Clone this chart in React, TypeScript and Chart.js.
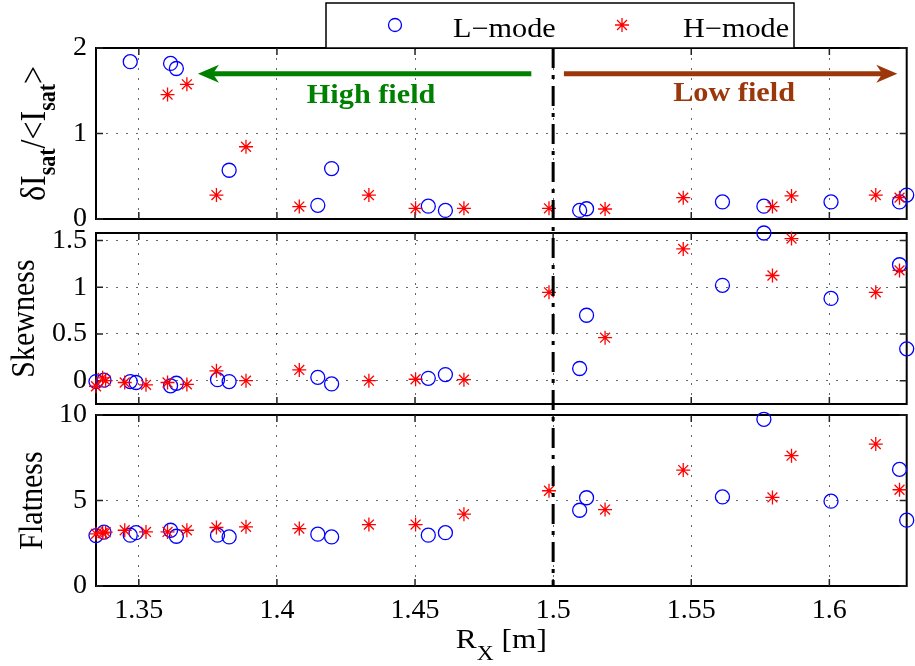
import { useEffect, useRef } from "react";
import { Chart, registerables } from "chart.js";

Chart.register(...registerables);

// ---------------- data ----------------
const X_MIN = 1.3345;
const X_MAX = 1.628;
const X_TICKS = [1.35, 1.4, 1.45, 1.5, 1.55, 1.6];
const X_TICK_LABELS = ["1.35", "1.4", "1.45", "1.5", "1.55", "1.6"];

// top panel: dIsat/<Isat>
const TOP_L_X = [1.3469, 1.3615, 1.3636, 1.3827, 1.4148, 1.4198, 1.4548, 1.461, 1.5096, 1.5121, 1.5613, 1.5763, 1.6006, 1.6254, 1.628];
const TOP_L_Y = [1.84, 1.82, 1.76, 0.57, 0.16, 0.59, 0.15, 0.1, 0.1, 0.12, 0.2, 0.15, 0.2, 0.2, 0.28];
const TOP_H_X = [1.3604, 1.3674, 1.3781, 1.3888, 1.4081, 1.4333, 1.4502, 1.4677, 1.4985, 1.5188, 1.5471, 1.5794, 1.5863, 1.6168, 1.6254];
const TOP_H_Y = [1.455, 1.575, 0.28, 0.845, 0.145, 0.28, 0.125, 0.125, 0.125, 0.117, 0.25, 0.145, 0.27, 0.28, 0.25];

// middle & bottom panels share the probe positions
const L_X = [1.3345, 1.3374, 1.3469, 1.349, 1.3615, 1.3636, 1.3785, 1.3827, 1.4148, 1.4198, 1.4548, 1.461, 1.5096, 1.5121, 1.5613, 1.5763, 1.6006, 1.6254, 1.628];
const H_X = [1.3345, 1.3369, 1.338, 1.3449, 1.3526, 1.3604, 1.3674, 1.3781, 1.3888, 1.4081, 1.4333, 1.4502, 1.4677, 1.4985, 1.5188, 1.5471, 1.5794, 1.5863, 1.6168, 1.6254];

const SKEW_L = [-0.01, 0.005, -0.01, -0.02, -0.055, -0.028, 0.01, -0.01, 0.035, -0.035, 0.025, 0.065, 0.13, 0.7, 1.02, 1.58, 0.88, 1.24, 0.34];
const SKEW_H = [-0.06, 0.03, 0.0, -0.02, -0.045, -0.02, -0.04, 0.105, 0.0, 0.115, 0.0, 0.015, 0.01, 0.945, 0.46, 1.41, 1.125, 1.52, 0.945, 1.18];

const FLAT_L = [2.95, 3.15, 2.97, 3.12, 3.26, 2.91, 2.97, 2.87, 3.03, 2.87, 2.97, 3.12, 4.43, 5.16, 5.21, 9.75, 4.96, 6.82, 3.85];
const FLAT_H = [3.05, 3.1, 3.15, 3.26, 3.16, 3.16, 3.26, 3.42, 3.46, 3.36, 3.59, 3.59, 4.2, 5.57, 4.47, 6.78, 5.18, 7.62, 8.3, 5.63];

const TOP_Y_TICKS = [0, 1, 2];
const TOP_Y_LABELS = ["0", "1", "2"];
const SKEW_Y_TICKS = [0, 0.5, 1, 1.5];
const SKEW_Y_LABELS = ["0", "0.5", "1", "1.5"];
const FLAT_Y_TICKS = [0, 5, 10];
const FLAT_Y_LABELS = ["0", "5", "10"];

const DIVIDE_X = 1.5;
const ARROW_Y = 1.7;
const HIGH_ARROW_X = [1.4921, 1.3714]; // tail, tip
const LOW_ARROW_X = [1.5039, 1.6246];
const HIGH_LABEL = [1.4341, 1.352];
const LOW_LABEL = [1.5655, 1.375];

// ---------------- layout / style ----------------
const W = 915;
const H = 666;
const PLOT_LEFT = 96;
const PLOT_RIGHT = 914;
const Y_AXIS_W = 70;
const X_AXIS_H = 60;
const SERIF = "'Liberation Serif', 'Times New Roman', serif";
const STRETCH = 1.12;
const BLUE = "rgb(0,0,255)";
const RED = "rgb(255,0,0)";
const GREEN = "rgb(0,128,0)";
const BROWN = "rgb(155,55,10)";

type Seg = { text: string; sub?: boolean };
type Panel = {
  top: number;
  bottom: number;
  yMin: number;
  yMax: number;
  yTicks: number[];
  yLabels: string[];
  lx: number[];
  ly: number[];
  hx: number[];
  hy: number[];
  titleX: number;
  titleSize: number;
  title: Seg[];
};

const PANELS: Panel[] = [
  {
    top: 48, bottom: 219, yMin: 0, yMax: 2, yTicks: TOP_Y_TICKS, yLabels: TOP_Y_LABELS,
    lx: TOP_L_X, ly: TOP_L_Y, hx: TOP_H_X, hy: TOP_H_Y, titleX: 45, titleSize: 32,
    title: [{ text: "δI" }, { text: "sat", sub: true }, { text: "/<I" }, { text: "sat", sub: true }, { text: ">" }],
  },
  {
    top: 233, bottom: 404, yMin: -0.25, yMax: 1.58, yTicks: SKEW_Y_TICKS, yLabels: SKEW_Y_LABELS,
    lx: L_X, ly: SKEW_L, hx: H_X, hy: SKEW_H, titleX: 33.5, titleSize: 30,
    title: [{ text: "Skewness" }],
  },
  {
    top: 415, bottom: 586, yMin: 0, yMax: 10, yTicks: FLAT_Y_TICKS, yLabels: FLAT_Y_LABELS,
    lx: L_X, ly: FLAT_L, hx: H_X, hy: FLAT_H, titleX: 42, titleSize: 30,
    title: [{ text: "Flatness" }],
  },
];

function drawRotatedTitle(ctx: CanvasRenderingContext2D, cx: number, cy: number, segs: Seg[], size: number) {
  const mainFont = `${size}px ${SERIF}`;
  const subFont = `bold ${Math.round(size * 0.7)}px ${SERIF}`;
  ctx.save();
  ctx.translate(cx, cy);
  ctx.rotate(-Math.PI / 2);
  ctx.scale(1, STRETCH);
  ctx.fillStyle = "#000";
  ctx.textAlign = "left";
  ctx.textBaseline = "alphabetic";
  let total = 0;
  for (const s of segs) {
    ctx.font = s.sub ? subFont : mainFont;
    total += ctx.measureText(s.text).width;
  }
  let x = -total / 2;
  for (const s of segs) {
    ctx.font = s.sub ? subFont : mainFont;
    ctx.fillText(s.text, x, s.sub ? 9 : 0);
    x += ctx.measureText(s.text).width;
  }
  ctx.restore();
}

function drawText(ctx: CanvasRenderingContext2D, x: number, y: number, text: string, font: string, color: string, align: CanvasTextAlign) {
  ctx.save();
  ctx.translate(x, y);
  ctx.scale(STRETCH, 1);
  ctx.font = font;
  ctx.fillStyle = color;
  ctx.textAlign = align;
  ctx.textBaseline = "alphabetic";
  ctx.fillText(text, 0, 0);
  ctx.restore();
}

function drawArrow(ctx: CanvasRenderingContext2D, x0: number, x1: number, y: number, color: string) {
  const dir = Math.sign(x1 - x0);
  const headL = 21;
  const headW = 9;
  const notch = 6;
  ctx.save();
  ctx.strokeStyle = color;
  ctx.fillStyle = color;
  ctx.lineWidth = 5;
  ctx.beginPath();
  ctx.moveTo(x0, y);
  ctx.lineTo(x1 - dir * (headL - notch), y);
  ctx.stroke();
  ctx.beginPath();
  ctx.moveTo(x1, y);
  ctx.lineTo(x1 - dir * headL, y - headW);
  ctx.lineTo(x1 - dir * (headL - notch), y);
  ctx.lineTo(x1 - dir * headL, y + headW);
  ctx.closePath();
  ctx.fill();
  ctx.restore();
}

function drawCircleMarker(ctx: CanvasRenderingContext2D, x: number, y: number) {
  ctx.save();
  ctx.strokeStyle = BLUE;
  ctx.lineWidth = 1.3;
  ctx.beginPath();
  ctx.arc(x, y, 6.5, 0, Math.PI * 2);
  ctx.stroke();
  ctx.restore();
}

function drawStarMarker(ctx: CanvasRenderingContext2D, x: number, y: number) {
  const r = 7;
  const d = r * Math.SQRT1_2;
  ctx.save();
  ctx.strokeStyle = RED;
  ctx.lineWidth = 1.3;
  ctx.beginPath();
  ctx.moveTo(x - r, y); ctx.lineTo(x + r, y);
  ctx.moveTo(x, y - r); ctx.lineTo(x, y + r);
  ctx.moveTo(x - d, y - d); ctx.lineTo(x + d, y + d);
  ctx.moveTo(x - d, y + d); ctx.lineTo(x + d, y - d);
  ctx.stroke();
  ctx.restore();
}

function makePlugin(idx: number, panel: Panel) {
  return {
    id: "decor" + idx,
    beforeDatasetsDraw(chart: any) {
      const { ctx, chartArea } = chart;
      const { left, right, top, bottom } = chartArea;
      const xs = chart.scales.x;
      const ys = chart.scales.y;
      ctx.save();
      ctx.setLineDash([]);
      ctx.strokeStyle = "#000";
      ctx.lineWidth = 2;
      ctx.strokeRect(left, top, right - left, bottom - top);
      ctx.lineWidth = 1.5;
      ctx.strokeStyle = "#222";
      ctx.beginPath();
      for (const t of xs.ticks) {
        const px = xs.getPixelForValue(t.value);
        ctx.moveTo(px, bottom); ctx.lineTo(px, bottom - 7);
        ctx.moveTo(px, top); ctx.lineTo(px, top + 7);
      }
      for (const t of ys.ticks) {
        const py = ys.getPixelForValue(t.value);
        ctx.moveTo(left, py); ctx.lineTo(left + 7, py);
        ctx.moveTo(right, py); ctx.lineTo(right - 7, py);
      }
      ctx.stroke();
      ctx.restore();
    },
    afterDraw(chart: any) {
      const { ctx, chartArea } = chart;
      const xs = chart.scales.x;
      const ys = chart.scales.y;
      drawRotatedTitle(ctx, panel.titleX, (chartArea.top + chartArea.bottom) / 2, panel.title, panel.titleSize);

      if (idx === 0) {
        // arrows and region labels
        const ay = ys.getPixelForValue(ARROW_Y);
        drawArrow(ctx, xs.getPixelForValue(HIGH_ARROW_X[0]), xs.getPixelForValue(HIGH_ARROW_X[1]), ay, GREEN);
        drawArrow(ctx, xs.getPixelForValue(LOW_ARROW_X[0]), xs.getPixelForValue(LOW_ARROW_X[1]), ay, BROWN);
        drawText(ctx, xs.getPixelForValue(HIGH_LABEL[0]), ys.getPixelForValue(HIGH_LABEL[1]), "High field", `bold 27px ${SERIF}`, GREEN, "center");
        drawText(ctx, xs.getPixelForValue(LOW_LABEL[0]), ys.getPixelForValue(LOW_LABEL[1]), "Low field", `bold 27px ${SERIF}`, BROWN, "center");

        // legend
        ctx.save();
        ctx.fillStyle = "#fff";
        ctx.fillRect(326, 3, 468, 45);
        ctx.strokeStyle = "#000";
        ctx.lineWidth = 1.5;
        ctx.strokeRect(326, 3, 468, 45);
        ctx.restore();
        drawCircleMarker(ctx, 395, 25);
        drawText(ctx, 453, 36.5, "L\u2212mode", `27px ${SERIF}`, "#000", "left");
        drawStarMarker(ctx, 622, 25);
        drawText(ctx, 683, 36.5, "H\u2212mode", `27px ${SERIF}`, "#000", "left");
      }

      if (idx === 2) {
        // x-axis title R_X [m]
        const cx = (chartArea.left + chartArea.right) / 2;
        const by = 648;
        ctx.save();
        ctx.translate(cx, by);
        ctx.scale(STRETCH, 1);
        ctx.fillStyle = "#000";
        ctx.textBaseline = "alphabetic";
        ctx.textAlign = "left";
        const f1 = `28px ${SERIF}`;
        const f2 = `21px ${SERIF}`;
        ctx.font = f1;
        const wR = ctx.measureText("R").width;
        const wM = ctx.measureText(" [m]").width;
        ctx.font = f2;
        const wX = ctx.measureText("X").width;
        let x = -(wR + wX + wM) / 2;
        ctx.font = f1;
        ctx.fillText("R", x, 0);
        x += wR;
        ctx.font = f2;
        ctx.fillText("X", x, 12);
        x += wX;
        ctx.font = f1;
        ctx.fillText(" [m]", x, 0);
        ctx.restore();

        // dash-dot separator spanning all panels
        const px = xs.getPixelForValue(DIVIDE_X);
        ctx.save();
        ctx.strokeStyle = "#000";
        ctx.lineWidth = 3;
        ctx.setLineDash([20, 7, 4, 7]);
        ctx.beginPath();
        ctx.moveTo(px, PANELS[0].top);
        ctx.lineTo(px, chartArea.bottom);
        ctx.stroke();
        ctx.restore();
      }
    },
  };
}

function buildConfig(idx: number, panel: Panel): any {
  const showX = idx === 2;
  const xh = showX ? X_AXIS_H : 0;
  const tickFont = { family: SERIF, size: 28 };
  return {
    type: "scatter",
    data: {
      datasets: [
        {
          label: "H\u2212mode",
          data: panel.hx.map((x, k) => ({ x, y: panel.hy[k] })),
          pointStyle: "star",
          pointRadius: 7,
          pointBorderColor: RED,
          pointBackgroundColor: RED,
          pointBorderWidth: 1.3,
          borderColor: RED,
          backgroundColor: RED,
          showLine: false,
          clip: false,
        },
        {
          label: "L\u2212mode",
          data: panel.lx.map((x, k) => ({ x, y: panel.ly[k] })),
          pointStyle: "circle",
          pointRadius: 7,
          pointBorderColor: BLUE,
          pointBackgroundColor: "rgba(0,0,0,0)",
          pointBorderWidth: 1.3,
          borderColor: BLUE,
          backgroundColor: "rgba(0,0,0,0)",
          showLine: false,
          clip: false,
        },
      ],
    },
    options: {
      responsive: false,
      animation: false,
      devicePixelRatio: 1,
      events: [],
      layout: {
        padding: {
          left: PLOT_LEFT - Y_AXIS_W,
          right: W - PLOT_RIGHT,
          top: panel.top,
          bottom: H - panel.bottom - xh,
        },
      },
      plugins: { legend: { display: false }, tooltip: { enabled: false }, title: { display: false } },
      scales: {
        x: {
          type: "linear",
          min: X_MIN,
          max: X_MAX,
          afterBuildTicks: (s: any) => {
            s.ticks = X_TICKS.map((v) => ({ value: v }));
          },
          afterFit: (s: any) => {
            s.height = xh;
          },
          ticks: {
            display: showX,
            autoSkip: false,
            maxRotation: 0,
            color: "#000",
            font: tickFont,
            padding: 8,
            callback: (_v: any, i: number) => X_TICK_LABELS[i],
          },
          grid: { color: "rgba(0,0,0,0.6)", lineWidth: 1, drawTicks: false },
          border: { display: false, dash: [2, 8] },
        },
        y: {
          type: "linear",
          min: panel.yMin,
          max: panel.yMax,
          afterBuildTicks: (s: any) => {
            s.ticks = panel.yTicks.map((v) => ({ value: v }));
          },
          afterFit: (s: any) => {
            s.width = Y_AXIS_W;
          },
          ticks: {
            autoSkip: false,
            color: "#000",
            font: tickFont,
            padding: 9,
            callback: (_v: any, i: number) => panel.yLabels[i],
          },
          grid: { color: "rgba(0,0,0,0.6)", lineWidth: 1, drawTicks: false },
          border: { display: false, dash: [2, 8] },
        },
      },
    },
    plugins: [makePlugin(idx, panel)],
  };
}

export default function App() {
  const r0 = useRef<HTMLCanvasElement>(null);
  const r1 = useRef<HTMLCanvasElement>(null);
  const r2 = useRef<HTMLCanvasElement>(null);
  const refs = [r0, r1, r2];

  useEffect(() => {
    const charts = PANELS.map((p, i) => new Chart(refs[i].current as HTMLCanvasElement, buildConfig(i, p)));
    return () => charts.forEach((c) => c.destroy());
  }, []);

  return (
    <div style={{ position: "fixed", left: 0, top: 0, width: W, height: H, background: "#fff" }}>
      {PANELS.map((_p, i) => (
        <canvas
          key={i}
          ref={refs[i]}
          width={W}
          height={H}
          style={{ position: "absolute", left: 0, top: 0, width: W, height: H }}
        />
      ))}
    </div>
  );
}
